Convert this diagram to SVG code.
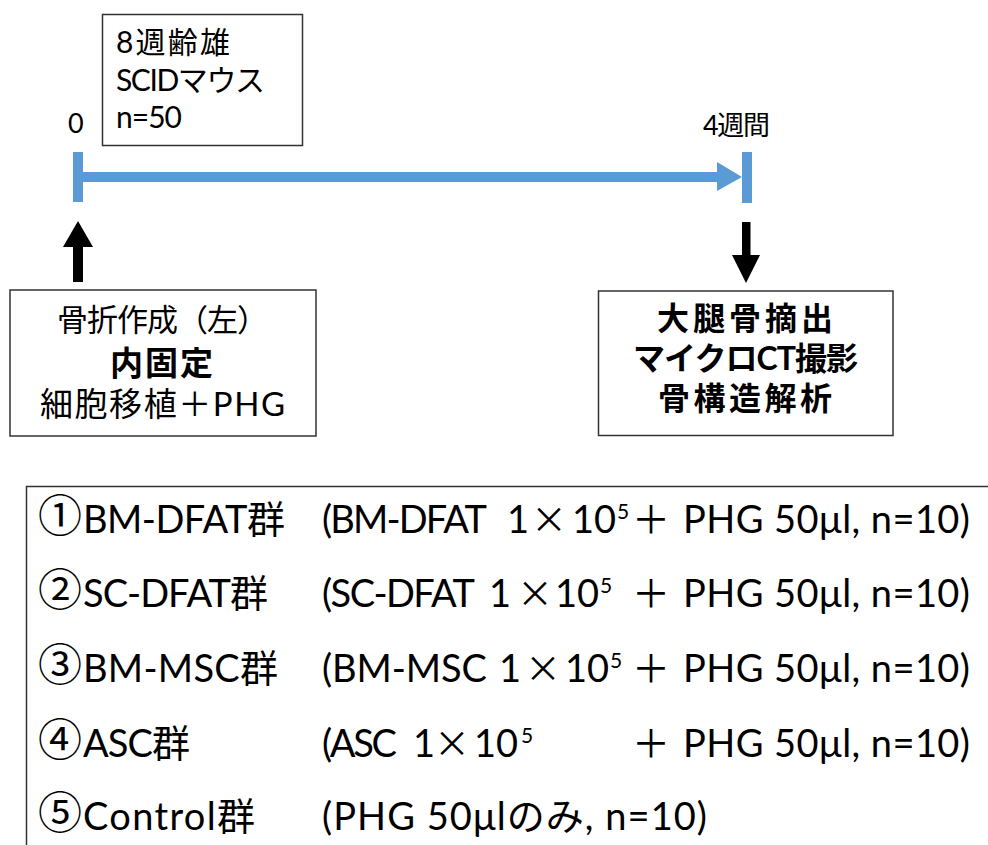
<svg xmlns="http://www.w3.org/2000/svg" width="988" height="845" viewBox="0 0 988 845">
<style>
text{font-family:Lato,"Noto Sans CJK JP",sans-serif;fill:#000}
.box{fill:#fff;stroke:#333;stroke-width:1.5}
.t27{font-size:27px}
.t30{font-size:30px}
.t31{font-size:31px}
.t33{font-size:33px}
.t32{font-size:32px}
.b{font-weight:bold}
.t38{font-size:38px}
.x{font-family:"Noto Sans CJK JP",sans-serif;font-size:36px;text-anchor:middle}
.c{font-family:"Noto Sans CJK JP",sans-serif;font-size:44px}
.sup{font-size:21px}
.blue{stroke:#5B9BD5;stroke-width:10;fill:none}
</style>
<rect width="988" height="845" fill="#fff"/>
<g id="mouse-info">
<rect class="box" x="102.5" y="14.5" width="200" height="131"/>
<text class="t30" x="116" y="53" textLength="114">8週齢雄</text>
<text class="t30" x="116" y="91" textLength="149">SCIDマウス</text>
<text class="t30" x="116" y="128" textLength="66">n=50</text>
</g>
<g id="label-0"><text class="t27" x="68" y="133">0</text></g>
<g id="label-4w"><text class="t27" x="703" y="135" textLength="67">4週間</text></g>
<g id="connectors">
<line class="blue" x1="78" y1="152" x2="78" y2="202"/>
<line class="blue" x1="747" y1="152" x2="747" y2="203"/>
<line class="blue" x1="83" y1="177" x2="720" y2="177"/>
<polygon points="717,162 742,177 717,191" fill="#5B9BD5"/>
<rect x="73" y="245" width="10" height="37" fill="#000"/>
<polygon points="63,247 78,221 93,247" fill="#000"/>
<rect x="742" y="222" width="8.5" height="35" fill="#000"/>
<polygon points="732,255 760,255 746,283" fill="#000"/>
</g>
<g id="surgery">
<rect class="box" x="10" y="290" width="306" height="146"/>
<text class="t31" x="57" y="331" textLength="211">骨折作成（左）</text>
<text class="t33 b" x="110" y="375" textLength="103">内固定</text>
<text class="t33" x="40" y="416" textLength="245">細胞移植＋PHG</text>
</g>
<g id="analysis">
<rect class="box" x="598.5" y="291" width="294.5" height="144.5"/>
<text class="t32 b" x="657" y="330" textLength="176">大腿骨摘出</text>
<text class="t32 b" x="633" y="370" textLength="225">マイクロCT撮影</text>
<text class="t32 b" x="658" y="410" textLength="174">骨構造解析</text>
</g>
<g id="groups">
<rect class="box" x="26.5" y="486.5" width="980" height="400"/>
<text class="c" x="38" y="532">①</text>
<text class="t38" x="83" y="533" textLength="202">BM-DFAT群</text>
<text class="t38" x="322" y="533" textLength="165">(BM-DFAT</text>
<text class="t38" x="507" y="533">1</text>
<text class="x" x="549" y="533">×</text>
<text class="t38" x="572" y="533">10</text>
<text class="sup" x="617" y="519">5</text>
<text class="t38" x="632" y="533">＋</text>
<text class="t38" x="683" y="533" textLength="287">PHG 50μl, n=10)</text>

<text class="c" x="38" y="606">②</text>
<text class="t38" x="83" y="607" textLength="185">SC-DFAT群</text>
<text class="t38" x="322" y="607" textLength="153">(SC-DFAT</text>
<text class="t38" x="489" y="607">1</text>
<text class="x" x="535" y="607">×</text>
<text class="t38" x="555" y="607">10</text>
<text class="sup" x="600" y="593">5</text>
<text class="t38" x="632" y="607">＋</text>
<text class="t38" x="683" y="607" textLength="287">PHG 50μl, n=10)</text>

<text class="c" x="38" y="681">③</text>
<text class="t38" x="83" y="682" textLength="195">BM-MSC群</text>
<text class="t38" x="322" y="682" textLength="165">(BM-MSC</text>
<text class="t38" x="499" y="682">1</text>
<text class="x" x="543" y="682">×</text>
<text class="t38" x="565" y="682">10</text>
<text class="sup" x="610" y="668">5</text>
<text class="t38" x="632" y="682">＋</text>
<text class="t38" x="683" y="682" textLength="287">PHG 50μl, n=10)</text>

<text class="c" x="38" y="756">④</text>
<text class="t38" x="83" y="757" textLength="107">ASC群</text>
<text class="t38" x="322" y="757" textLength="75">(ASC</text>
<text class="t38" x="413" y="757">1</text>
<text class="x" x="452" y="757">×</text>
<text class="t38" x="474" y="757">10</text>
<text class="sup" x="521" y="743">5</text>
<text class="t38" x="632" y="757">＋</text>
<text class="t38" x="683" y="757" textLength="287">PHG 50μl, n=10)</text>

<text class="c" x="38" y="829">⑤</text>
<text class="t38" x="83" y="830" textLength="172">Control群</text>
<text class="t38" x="322" y="830" textLength="385">(PHG 50μlのみ, n=10)</text>
</g>
</svg>
